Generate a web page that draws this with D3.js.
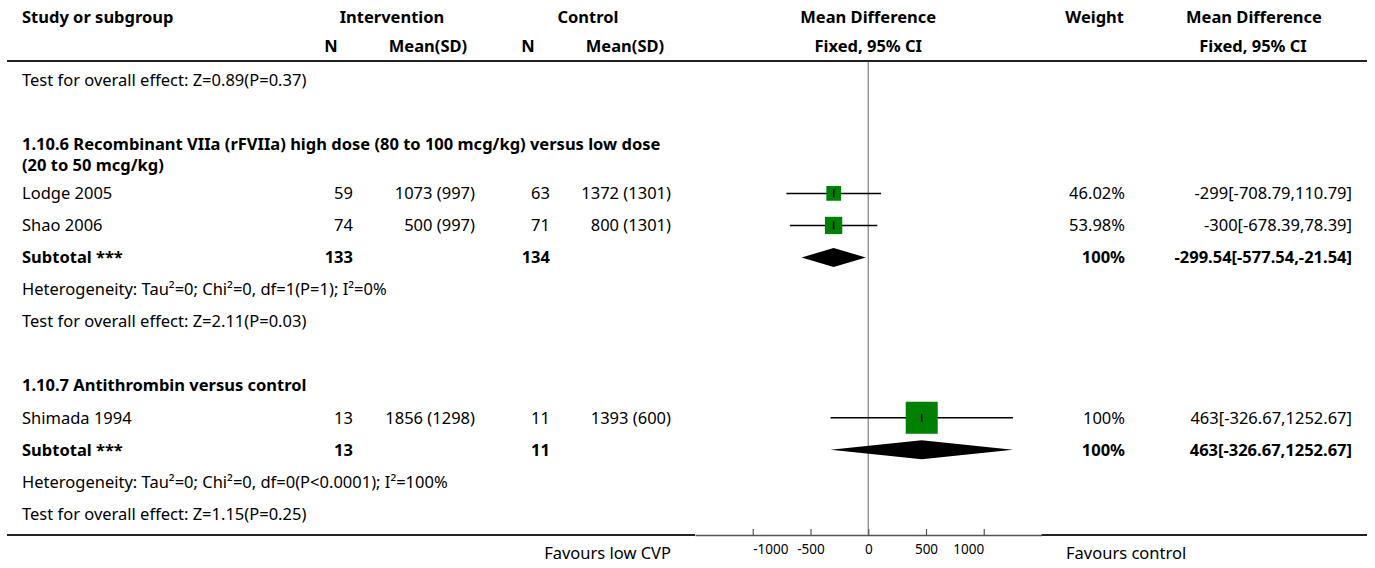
<!DOCTYPE html>
<html>
<head>
<meta charset="utf-8">
<script src="https://cdn.jsdelivr.net/npm/d3@7"></script>
<style>
  body { margin: 0; background: #fff; }
  svg text { font-family: "Noto Sans", Lato, sans-serif; fill: #000; }
</style>
</head>
<body>
<script>
var width = 1375,
    height = 568;

// ---- data ----
var prevTest = "Test for overall effect: Z=0.89(P=0.37)";

var groupTitles = ["1.10.6 Recombinant VIIa (rFVIIa) high dose (80 to 100 mcg/kg) versus low dose (20 to 50 mcg/kg)",
                   "1.10.7 Antithrombin versus control"];

var studyNames = ["Lodge 2005", "Shao 2006", "Shimada 1994"];
var studyGroup = [0, 0, 1];
var intN = [59, 74, 13];
var intMean = [1073, 500, 1856];
var intSD = [997, 997, 1298];
var ctlN = [63, 71, 11];
var ctlMean = [1372, 800, 1393];
var ctlSD = [1301, 1301, 600];
var md = [-299, -300, 463];
var ciLo = [-708.79, -678.39, -326.67];
var ciHi = [110.79, 78.39, 1252.67];
var weights = [46.02, 53.98, 100];

var subN1 = [133, 13];
var subN2 = [134, 11];
var subMd = [-299.54, 463];
var subLo = [-577.54, -326.67];
var subHi = [-21.54, 1252.67];
var subWeight = [100, 100];

var hetText = ["Heterogeneity: Tau\u00b2=0; Chi\u00b2=0, df=1(P=1); I\u00b2=0%",
               "Heterogeneity: Tau\u00b2=0; Chi\u00b2=0, df=0(P<0.0001); I\u00b2=100%"];
var testText = ["Test for overall effect: Z=2.11(P=0.03)",
                "Test for overall effect: Z=1.15(P=0.25)"];

var axisTicks = [-1000, -500, 0, 500, 1000];
var xDomain = [-1500, 1500];
var favours = ["Favours low CVP", "Favours control"];

// ---- layout ----
var fontSize = 16.5;
var col = { study: 22, intN: 353, intMean: 475, ctlN: 550, ctlMean: 671, weight: 1125, effect: 1352 };
var rowStep = 32.05, lineStep = 21;

var x = d3.scaleLinear().domain(xDomain).range([695, 1041.5]);
var boxSize = d3.scaleLinear().domain([0, 100]).range([0, 32]);

var svg = d3.select("body").append("svg")
    .attr("width", width)
    .attr("height", height);

function txt(g, s, xx, yy, anchor, bold) {
  return g.append("text")
    .attr("x", xx).attr("y", yy).attr("dy", "0.35em")
    .attr("text-anchor", anchor || "start")
    .style("font-size", fontSize + "px")
    .style("font-weight", bold ? "bold" : "normal")
    .text(s);
}

// header
var head = svg.append("g").attr("class", "header");
txt(head, "Study or subgroup", col.study, 17.5, "start", true);
txt(head, "Intervention", 392, 17.5, "middle", true);
txt(head, "Control", 588, 17.5, "middle", true);
txt(head, "N", 331, 46.5, "middle", true);
txt(head, "Mean(SD)", 428, 46.5, "middle", true);
txt(head, "N", 528, 46.5, "middle", true);
txt(head, "Mean(SD)", 625, 46.5, "middle", true);
txt(head, "Mean Difference", x(0), 17.5, "middle", true);
txt(head, "Fixed, 95% CI", x(0), 46.5, "middle", true);
txt(head, "Weight", 1124, 17.5, "end", true);
txt(head, "Mean Difference", 1254, 17.5, "middle", true);
txt(head, "Fixed, 95% CI", 1253, 46.5, "middle", true);

svg.append("line")
  .attr("x1", 7).attr("x2", 1367).attr("y1", 61).attr("y2", 61)
  .attr("stroke", "#222").attr("stroke-width", 2);

// rows
var rows = [{ type: "note", text: prevTest }, { type: "blank" }];
groupTitles.forEach(function(t, g) {
  rows.push({ type: "heading", text: t });
  studyNames.forEach(function(s, i) { if (studyGroup[i] === g) rows.push({ type: "study", i: i }); });
  rows.push({ type: "subtotal", g: g });
  rows.push({ type: "note", text: hetText[g] });
  rows.push({ type: "note", text: testText[g] });
  if (g < groupTitles.length - 1) rows.push({ type: "blank" });
});

var body = svg.append("g").attr("class", "rows");
var plot = svg.append("g").attr("class", "plot");

// zero line first so marks sit over it
plot.append("line")
  .attr("x1", x(0)).attr("x2", x(0)).attr("y1", 62).attr("y2", 535)
  .attr("stroke", "#8a8a8a").attr("stroke-width", 1.3);

function effectLabel(m, lo, hi) { return m + "[" + lo + "," + hi + "]"; }

var cur = 80;
rows.forEach(function(r) {
  var y = cur;
  if (r.type === "note") {
    txt(body, r.text, col.study, y);
    cur += rowStep;
  } else if (r.type === "blank") {
    cur += rowStep;
  } else if (r.type === "heading") {
    // word wrap the group title
    var words = r.text.split(" "), line = [], lines = [];
    var probe = txt(body, "", col.study, y, "start", true);
    words.forEach(function(w) {
      line.push(w);
      probe.text(line.join(" "));
      if (probe.node().getComputedTextLength() > 650 && line.length > 1) {
        line.pop();
        lines.push(line.join(" "));
        line = [w];
      }
    });
    lines.push(line.join(" "));
    probe.remove();
    lines.forEach(function(l, k) { txt(body, l, col.study, y + k * lineStep, "start", true); });
    cur += rowStep + (lines.length - 1) * 17.25;
  } else if (r.type === "study") {
    var i = r.i;
    txt(body, studyNames[i], col.study, y);
    txt(body, intN[i], col.intN, y, "end");
    txt(body, intMean[i] + " (" + intSD[i] + ")", col.intMean, y, "end");
    txt(body, ctlN[i], col.ctlN, y, "end");
    txt(body, ctlMean[i] + " (" + ctlSD[i] + ")", col.ctlMean, y, "end");
    txt(body, weights[i].toFixed(2).replace(/\.00$/, "") + "%", col.weight, y, "end");
    txt(body, effectLabel(md[i], ciLo[i], ciHi[i]), col.effect, y, "end");

    plot.append("line")
      .attr("x1", x(ciLo[i])).attr("x2", x(ciHi[i]))
      .attr("y1", y).attr("y2", y)
      .attr("stroke", "#000").attr("stroke-width", 1.5);
    var s = boxSize(weights[i]);
    plot.append("rect")
      .attr("x", x(md[i]) - s / 2).attr("y", y - s / 2)
      .attr("width", s).attr("height", s)
      .attr("fill", "#008000");
    plot.append("line")
      .attr("x1", x(md[i])).attr("x2", x(md[i]))
      .attr("y1", y - 4).attr("y2", y + 4)
      .attr("stroke", "#000").attr("stroke-width", 1.6);
    cur += rowStep;
  } else if (r.type === "subtotal") {
    var g = r.g;
    txt(body, "Subtotal ***", col.study, y, "start", true);
    txt(body, subN1[g], col.intN, y, "end", true);
    txt(body, subN2[g], col.ctlN, y, "end", true);
    txt(body, subWeight[g] + "%", col.weight, y, "end", true);
    txt(body, effectLabel(subMd[g], subLo[g], subHi[g]), col.effect, y, "end", true);

    var pts = [[x(subLo[g]), y], [x(subMd[g]), y - 9.5], [x(subHi[g]), y], [x(subMd[g]), y + 9.5]];
    plot.append("path")
      .attr("d", d3.line()(pts) + "Z")
      .attr("fill", "#000");
    cur += rowStep;
  }
});

// bottom rule and axis
svg.append("line")
  .attr("x1", 7).attr("x2", 695).attr("y1", 535).attr("y2", 535)
  .attr("stroke", "#222").attr("stroke-width", 2);
svg.append("line")
  .attr("x1", 1041.5).attr("x2", 1367).attr("y1", 535).attr("y2", 535)
  .attr("stroke", "#222").attr("stroke-width", 2);

var axis = svg.append("g")
  .attr("transform", "translate(0,535)")
  .call(d3.axisBottom(x).tickValues(axisTicks).tickFormat(function(d) { return String(d); })
    .tickSize(-6).tickSizeOuter(0).tickPadding(9));
axis.select(".domain").attr("stroke", "#555").attr("stroke-width", 1.5);
axis.selectAll(".tick line").attr("stroke", "#555").attr("stroke-width", 1.2);
axis.selectAll(".tick text")
  .style("font-family", "'Noto Sans', sans-serif")
  .style("font-size", "13.5px")
  .attr("fill", "#000")
  .attr("text-anchor", function(d, i) {
    if (i === 0) return "start";
    if (i === axisTicks.length - 1) return "end";
    return "middle";
  });

txt(svg, favours[0], col.ctlMean, 553, "end");
txt(svg, favours[1], 1066, 553, "start");
</script>
</body>
</html>
